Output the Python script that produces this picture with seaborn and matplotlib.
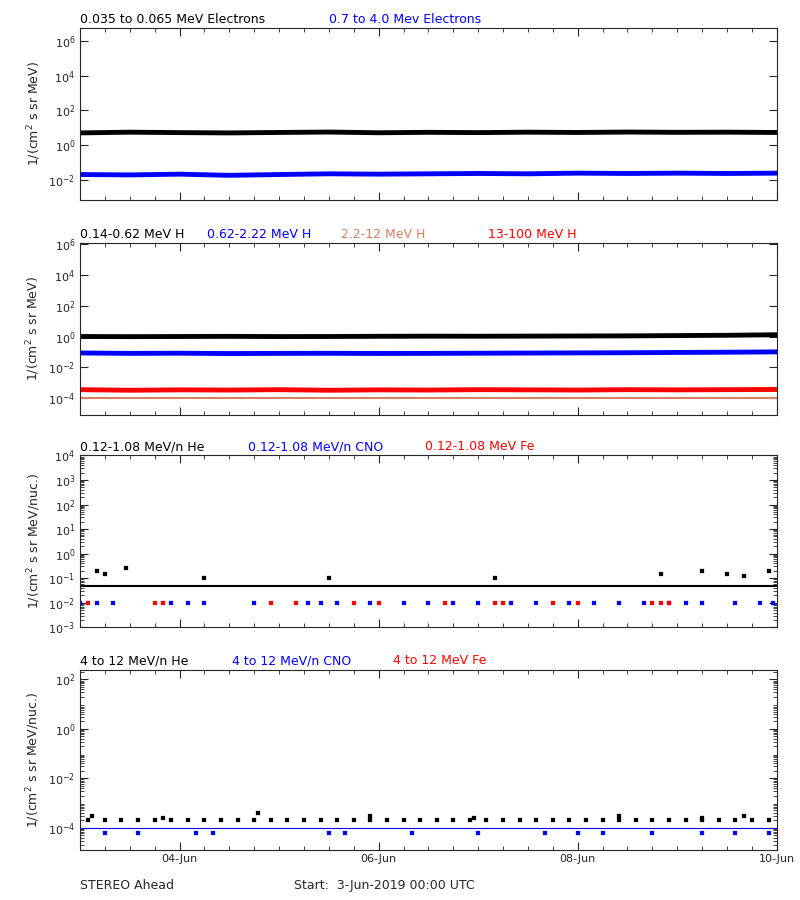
import numpy as np
import pandas as pd
import seaborn as sns
import matplotlib
matplotlib.use("Agg")
import matplotlib.pyplot as plt
import matplotlib.dates as mdates
import matplotlib.ticker as mticker

# -----------------------------------------------------------------------------
# Data (one value every 12 hours, 3-Jun to 10-Jun)
# -----------------------------------------------------------------------------
hours = [0, 12, 24, 36, 48, 60, 72, 84, 96, 108, 120, 132, 144, 156, 168]

e_low = [5.0, 5.5, 5.2, 5.0, 5.3, 5.6, 5.1, 5.4, 5.2, 5.5, 5.3, 5.6, 5.4, 5.5, 5.3]
e_high = [0.020, 0.019, 0.021, 0.018, 0.020, 0.022, 0.021, 0.022, 0.023, 0.022, 0.024, 0.023, 0.024, 0.023, 0.024]

h_1 = [1.00, 0.98, 1.00, 1.02, 0.99, 1.00, 1.03, 1.05, 1.04, 1.06, 1.08, 1.10, 1.15, 1.20, 1.30]
h_2 = [0.085, 0.080, 0.082, 0.078, 0.080, 0.081, 0.079, 0.080, 0.082, 0.084, 0.086, 0.088, 0.092, 0.095, 0.100]
h_3 = [1.0e-4] * 15
h_4 = [3.5e-4, 3.2e-4, 3.4e-4, 3.3e-4, 3.5e-4, 3.2e-4, 3.4e-4, 3.3e-4, 3.5e-4, 3.4e-4, 3.3e-4, 3.5e-4, 3.4e-4, 3.5e-4, 3.6e-4]

he_low = [0.05, 0.05, 0.05, 0.05, 0.05, 0.05, 0.05, 0.05, 0.05, 0.05, 0.05, 0.05, 0.05, 0.05, 0.05]
cno_low_h = [0, 4, 8, 22, 26, 30, 42, 55, 58, 62, 70, 78, 84, 90, 96, 104, 110, 118, 124, 130, 136, 142, 146, 150, 158, 164, 167]
cno_low = [0.010] * 27
fe_low_h = [2, 18, 20, 46, 52, 66, 72, 88, 100, 102, 114, 120, 138, 140, 142]
fe_low = [0.010] * 15

he_high_h = [2, 6, 10, 14, 18, 22, 26, 30, 34, 38, 42, 46, 50, 54, 58, 62, 66, 70, 74, 78,
             82, 86, 90, 94, 98, 102, 106, 110, 114, 118, 122, 126, 130, 134, 138, 142, 146,
             150, 154, 158, 162, 166]
he_high = [2.0e-4] * 42
cno_high = [1.0e-4] * 15
fe_high_h = [6, 14, 28, 32, 60, 64, 80, 96, 112, 120, 126, 138, 150, 158, 166]
fe_high = [6.0e-5] * 15

# sparse spikes
he_low_spike_h = [4, 6, 11, 30, 60, 100, 140, 150, 156, 160, 166]
he_low_spike_v = [0.2, 0.15, 0.25, 0.1, 0.1, 0.1, 0.15, 0.2, 0.15, 0.12, 0.2]
he_high_spike_h = [3, 20, 43, 70, 95, 130, 150, 160]
he_high_spike_v = [3e-4, 2.5e-4, 4e-4, 3e-4, 2.5e-4, 3e-4, 2.5e-4, 3e-4]

# -----------------------------------------------------------------------------
# Plotting attributes
# -----------------------------------------------------------------------------
sns.set_style("ticks")
plt.rcParams["font.family"] = ["DejaVu Sans"]
plt.rcParams["font.size"] = 8

start = pd.Timestamp("2019-06-03")


def to_time(hh):
    return [start + pd.Timedelta(hours=h) for h in hh]


salmon = "#d98060"
# (bottom, [(times, values, colour, style)], ylim, tick exponents, ylabel, titles, title x px)
panels = [
    (0.778, [(hours, e_low, "black", "band"), (hours, e_high, "blue", "band")], (7e-4, 5.6e6),
     [6, 4, 2, 0, -2], "1/(cm$^2$ s sr MeV)",
     [("0.035 to 0.065 MeV Electrons", "black"), ("0.7 to 4.0 Mev Electrons", "blue")],
     [80, 329]),
    (0.539, [(hours, h_1, "black", "band"), (hours, h_2, "blue", "band"),
             (hours, h_3, salmon, "thin"), (hours, h_4, "red", "band")], (8e-6, 1.2e6),
     [6, 4, 2, 0, -2, -4], "1/(cm$^2$ s sr MeV)",
     [("0.14-0.62 MeV H", "black"), ("0.62-2.22 MeV H", "blue"),
      ("2.2-12 MeV H", salmon), ("13-100 MeV H", "red")],
     [80, 207, 341, 488]),
    (0.303, [(hours, he_low, "black", "thin"), (cno_low_h, cno_low, "blue", "dots"),
             (fe_low_h, fe_low, "red", "dots")], (1e-3, 1e4),
     [4, 3, 2, 1, 0, -1, -2, -3], "1/(cm$^2$ s sr MeV/nuc.)",
     [("0.12-1.08 MeV/n He", "black"), ("0.12-1.08 MeV/n CNO", "blue"),
      ("0.12-1.08 MeV Fe", "red")],
     [80, 248, 425]),
    (0.056, [(he_high_h, he_high, "black", "dots"), (hours, cno_high, "blue", "line"),
             (fe_high_h, fe_high, "blue", "dots")], (1.3e-5, 2.5e2),
     [2, 0, -2, -4], "1/(cm$^2$ s sr MeV/nuc.)",
     [("4 to 12 MeV/n He", "black"), ("4 to 12 MeV/n CNO", "blue"),
      ("4 to 12 MeV Fe", "red")],
     [80, 232, 393]),
]
heights = [0.191, 0.191, 0.191, 0.200]
line_widths = {"band": 3.5, "thin": 1.5, "line": 0.8}

fig = plt.figure(figsize=(8, 9), dpi=100)
axes = []
for i, (bottom, series, ylim, ticks, ylabel, titles, tx) in enumerate(panels):
    ax = fig.add_axes([0.1, bottom, 0.871, heights[i]])
    for hh, vals, c, style in series:
        df = pd.DataFrame({"time": to_time(hh), "flux": vals})
        if style == "dots":
            sns.scatterplot(x="time", y="flux", data=df, color=c, s=5, marker="s",
                            ax=ax, edgecolor=None)
        else:
            sns.lineplot(x="time", y="flux", data=df, color=c, lw=line_widths[style],
                         ax=ax, errorbar=None)
    ax.set_yscale("log")
    ax.set_ylim(*ylim)
    ax.set_xlim(start, start + pd.Timedelta(days=7))
    ax.set_yticks([10.0 ** k for k in ticks])
    ax.set_yticklabels(["10$^{%d}$" % k for k in ticks])
    ax.yaxis.set_minor_locator(mticker.LogLocator(subs=np.arange(2, 10)))
    ax.yaxis.set_minor_formatter(mticker.NullFormatter())
    ax.set_ylabel(ylabel, fontsize=9)
    ax.set_xlabel(None)
    ax.xaxis.set_major_locator(mdates.DayLocator(bymonthday=[4, 6, 8, 10]))
    ax.xaxis.set_minor_locator(mdates.HourLocator(byhour=[0, 6, 12, 18]))
    ax.xaxis.set_major_formatter(mdates.DateFormatter("%d-%b"))
    ax.tick_params(which="both", direction="in", top=True, right=True)
    ax.tick_params(which="major", length=6)
    ax.tick_params(which="minor", length=3)
    if i < 3:
        ax.set_xticklabels([])
    for sp in ax.spines.values():
        sp.set_linewidth(0.8)
    # titles above the axes
    for (txt, c), px in zip(titles, tx):
        ax.text((px - 80) / 697, 1.03, txt, color=c, transform=ax.transAxes, fontsize=9)
    axes.append(ax)

# sparse spikes
sns.scatterplot(x=to_time(he_low_spike_h), y=he_low_spike_v,
                color="black", s=5, marker="s", ax=axes[2], edgecolor=None)
sns.scatterplot(x=to_time(he_high_spike_h), y=he_high_spike_v,
                color="black", s=5, marker="s", ax=axes[3], edgecolor=None)

fig.text(0.1, 0.012, "STEREO Ahead", fontsize=9)
fig.text(0.367, 0.012, "Start:  3-Jun-2019 00:00 UTC", fontsize=9)

plt.savefig("out.png", dpi=100)
